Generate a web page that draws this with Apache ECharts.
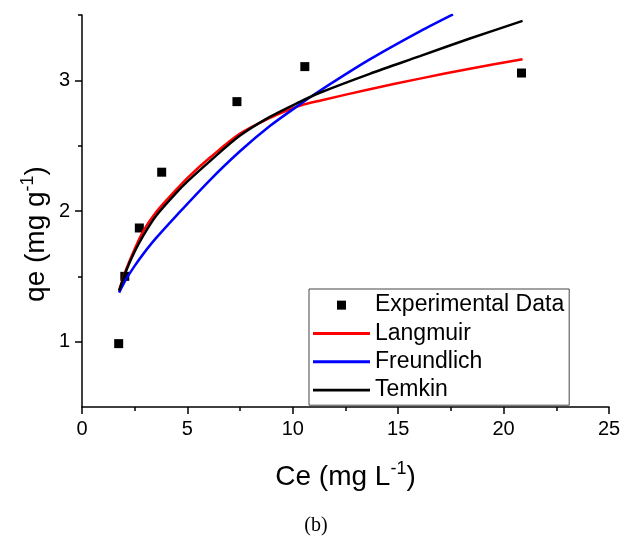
<!DOCTYPE html>
<html>
<head>
<meta charset="utf-8">
<script src="https://cdn.jsdelivr.net/npm/echarts@6/dist/echarts.min.js"></script>
<style>
  html, body { margin: 0; padding: 0; background: #fff; }
  #chart { width: 621px; height: 536px; }
</style>
</head>
<body>
<div id="chart"></div>
<script>
// experimental points
var expCe = [1.74, 2.03, 2.72, 3.78, 7.35, 10.57, 20.85];
var expQe = [0.985, 1.50, 1.87, 2.297, 2.837, 3.105, 3.056];

// fitted curves
var langCe = [1.76, 2.1, 2.5, 2.9, 3.5, 4.48, 5.03, 6.06, 7.48, 8.91, 9.86, 10.33, 11.28, 13.65, 16.03, 18.4, 20.9];
var langQe = [1.39, 1.555, 1.71, 1.845, 1.989, 2.165, 2.258, 2.407, 2.59, 2.712, 2.778, 2.806, 2.844, 2.932, 3.013, 3.089, 3.161];

var freuCe = [1.76, 2.1, 2.5, 2.9, 3.5, 4.48, 6.06, 7.48, 8.91, 10.33, 11.28, 13.65, 16.03, 17.6];
var freuQe = [1.375, 1.48, 1.58, 1.67, 1.79, 1.965, 2.235, 2.455, 2.65, 2.815, 2.92, 3.16, 3.375, 3.505];

var temkCe = [1.76, 2.1, 2.5, 2.9, 3.5, 4.48, 5.03, 6.06, 7.48, 8.91, 10.33, 11.28, 13.65, 16.03, 18.4, 20.9];
var temkQe = [1.39, 1.545, 1.69, 1.81, 1.96, 2.14, 2.23, 2.38, 2.575, 2.72, 2.835, 2.905, 3.05, 3.185, 3.32, 3.455];

var yMajor = [1, 2, 3];
var yMinor = [1.5, 2.5, 3.5];

function pairs(xs, ys) {
  return xs.map(function (x, i) { return [x, ys[i]]; });
}

var font = '"Liberation Sans", Arial, sans-serif';
var lineIcon = 'path://M0,0L100,0L100,5L0,5Z';
var chart = echarts.init(document.getElementById('chart'), null, { renderer: 'canvas' });

var option = {
  animation: false,
  backgroundColor: '#fff',
  grid: { left: 82, right: 12, top: 15, bottom: 129, containLabel: false, outerBoundsMode: 'none' },
  xAxis: {
    type: 'value', min: 0, max: 25, interval: 5,
    axisLine: { show: true, onZero: false, lineStyle: { color: '#000', width: 1.5 } },
    axisTick: { show: true, inside: false, length: 7, lineStyle: { color: '#000', width: 1.5 } },
    minorTick: { show: true, splitNumber: 2, length: 4, lineStyle: { color: '#000', width: 1.5 } },
    splitLine: { show: false },
    minorSplitLine: { show: false },
    axisLabel: { fontFamily: font, fontSize: 20, color: '#000', margin: 12, showMinLabel: true, showMaxLabel: true },
    name: '{a|Ce (mg L}{s|-1}{a|)}',
    nameLocation: 'middle',
    nameGap: 53,
    nameTextStyle: {
      rich: {
        a: { fontFamily: font, fontSize: 28, color: '#000', lineHeight: 34, verticalAlign: 'middle' },
        s: { fontFamily: font, fontSize: 18, color: '#000', lineHeight: 18, verticalAlign: 'top' }
      }
    }
  },
  yAxis: [{
    type: 'value', min: 0.5, max: 3.5,
    axisLine: { show: true, onZero: false, lineStyle: { color: '#000', width: 1.5 } },
    axisTick: { show: true, inside: false, length: 7, customValues: yMajor, lineStyle: { color: '#000', width: 1.5 } },
    splitLine: { show: false },
    axisLabel: { fontFamily: font, fontSize: 20, color: '#000', margin: 12, customValues: yMajor }
  }, {
    type: 'value', min: 0.5, max: 3.5, position: 'left',
    axisLine: { show: false, onZero: false },
    axisTick: { show: true, inside: false, length: 4, customValues: yMinor, lineStyle: { color: '#000', width: 1.5 } },
    splitLine: { show: false },
    axisLabel: { show: false }
  }],
  legend: {
    orient: 'vertical',
    left: 309, top: 289,
    padding: [2, 5, 1, 4],
    itemGap: 0,
    itemWidth: 57,
    itemHeight: 9,
    borderColor: '#444',
    borderWidth: 1,
    borderRadius: 0,
    backgroundColor: '#fff',
    textStyle: { fontFamily: font, fontSize: 23, color: '#000', lineHeight: 28.3 },
    data: [
      { name: 'Experimental Data', icon: 'path://M0,0L10,0L10,10L0,10Z' },
      { name: 'Langmuir', icon: lineIcon },
      { name: 'Freundlich', icon: lineIcon },
      { name: 'Temkin', icon: lineIcon }
    ]
  },
  graphic: [{
    type: 'text',
    x: 36, y: 234,
    rotation: Math.PI / 2,
    style: {
      text: '{a|qe (mg g}{s|-1}{a|)}',
      align: 'center', verticalAlign: 'middle',
      rich: {
        a: { fontFamily: font, fontSize: 28, fill: '#000', lineHeight: 34, verticalAlign: 'middle' },
        s: { fontFamily: font, fontSize: 18, fill: '#000', lineHeight: 18, verticalAlign: 'top' }
      }
    }
  }, {
    type: 'text',
    x: 316, y: 526,
    style: {
      text: '(b)',
      align: 'center', verticalAlign: 'middle',
      fontFamily: '"Liberation Serif", "Times New Roman", serif',
      fontSize: 20, fill: '#000'
    }
  }],
  series: [{
    name: 'Experimental Data',
    type: 'scatter',
    symbol: 'rect',
    symbolSize: 9,
    itemStyle: { color: '#000', opacity: 1 },
    data: pairs(expCe, expQe)
  }, {
    name: 'Langmuir',
    type: 'line',
    smooth: 0.3,
    symbol: 'none', showSymbol: false,
    lineStyle: { color: '#ff0000', width: 2.5 },
    itemStyle: { color: '#ff0000' },
    data: pairs(langCe, langQe)
  }, {
    name: 'Freundlich',
    type: 'line',
    smooth: 0.3,
    symbol: 'none', showSymbol: false,
    lineStyle: { color: '#0000ff', width: 2.5 },
    itemStyle: { color: '#0000ff' },
    data: pairs(freuCe, freuQe)
  }, {
    name: 'Temkin',
    type: 'line',
    smooth: 0.3,
    symbol: 'none', showSymbol: false,
    lineStyle: { color: '#000', width: 2.5 },
    itemStyle: { color: '#000' },
    data: pairs(temkCe, temkQe)
  }]
};

chart.setOption(option);
</script>
</body>
</html>
